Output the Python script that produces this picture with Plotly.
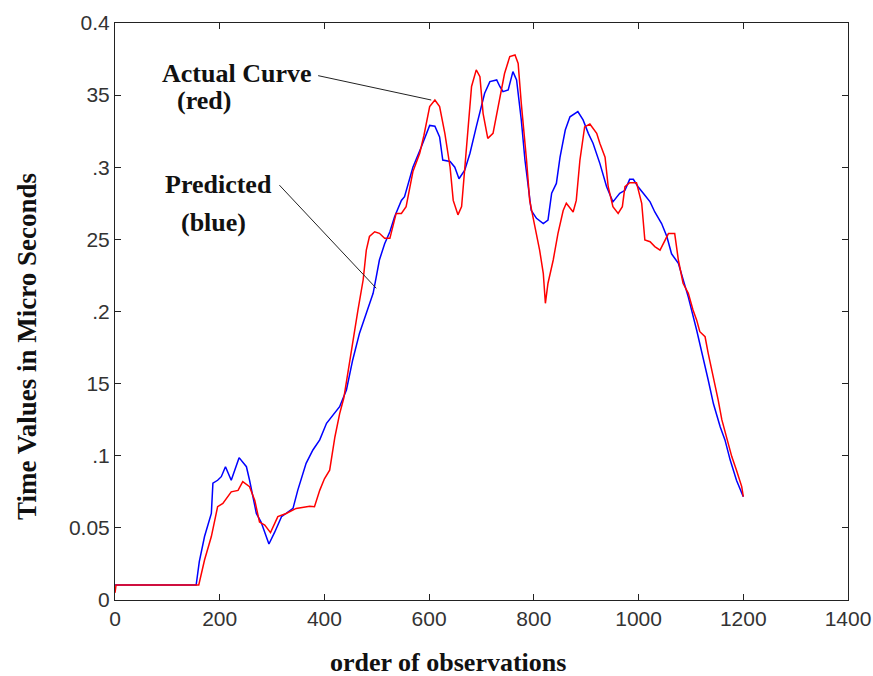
import plotly.graph_objects as go

# ---- data ----
red_x = [0, 2, 160, 171, 184, 196, 206, 222, 235, 244, 257, 267, 276, 286, 297, 311, 327, 346, 372, 381,
         391, 400, 410, 420, 429, 437, 445, 454, 464, 474, 480, 486, 496, 505, 515, 525, 531, 537, 547, 556,
         569, 582, 590, 601, 611, 620, 630, 640, 646, 655, 662, 668, 674, 681, 690, 697, 703, 712, 722, 735,
         744, 754, 764, 770, 776, 786, 792, 802, 811, 818, 822, 827, 837, 846, 856, 862, 875, 881, 888, 897,
         907, 920, 926, 936, 942, 951, 961, 969, 974, 983, 996, 1006, 1012, 1022, 1031, 1041, 1047, 1057, 1069, 1076,
         1085, 1095, 1104, 1111, 1117, 1127, 1133, 1143, 1152, 1159, 1168, 1178, 1187, 1197, 1200]
red_y = [0.005, 0.0104, 0.0104, 0.0277, 0.044, 0.0647, 0.067, 0.075, 0.076, 0.082, 0.0786, 0.069, 0.054, 0.052, 0.0467, 0.0578, 0.060, 0.0635, 0.065, 0.0647,
         0.076, 0.084, 0.090, 0.113, 0.129, 0.140, 0.158, 0.180, 0.201, 0.222, 0.2426, 0.252, 0.2553, 0.2542, 0.2507, 0.2507, 0.2588, 0.268, 0.268, 0.2727,
         0.297, 0.3097, 0.322, 0.342, 0.3466, 0.342, 0.3235, 0.300, 0.277, 0.267, 0.2727, 0.298, 0.321, 0.356, 0.3675, 0.3628, 0.3374, 0.320, 0.3235, 0.349,
         0.365, 0.3767, 0.3778, 0.372, 0.3443, 0.305, 0.277, 0.2588, 0.2426, 0.2265, 0.2057, 0.2196, 0.2357, 0.254, 0.270, 0.275, 0.269, 0.277, 0.305, 0.328,
         0.330, 0.3235, 0.3166, 0.307, 0.2865, 0.2727, 0.268, 0.2727, 0.2865, 0.2893, 0.2893, 0.275, 0.2496, 0.2484, 0.245, 0.2426, 0.2473, 0.254, 0.254, 0.2357,
         0.2196, 0.2126, 0.201, 0.194, 0.186, 0.1825, 0.171, 0.155, 0.1387, 0.125, 0.113, 0.0994, 0.090, 0.0786, 0.0716]

blue_x = [0, 155, 161, 168, 171, 184, 187, 196, 203, 211, 222, 237, 251, 257, 270, 279, 294, 305, 318, 340,
          349, 365, 378, 391, 404, 429, 442, 454, 467, 480, 493, 499, 505, 515, 525, 534, 547, 553, 569, 585,
          601, 611, 620, 626, 640, 649, 657, 668, 678, 690, 706, 716, 729, 735, 741, 751, 760, 767, 776, 783,
          789, 795, 805, 818, 827, 834, 843, 850, 860, 869, 884, 894, 904, 913, 926, 939, 951, 964, 974, 983,
          990, 999, 1009, 1022, 1031, 1044, 1054, 1063, 1076, 1085, 1095, 1111, 1123, 1133, 1143, 1156, 1165, 1175, 1187, 1200]
blue_y = [0.0104, 0.0104, 0.0266, 0.0395, 0.044, 0.060, 0.081, 0.083, 0.0855, 0.0924, 0.083, 0.0987, 0.0924, 0.083, 0.060, 0.054, 0.0388, 0.047, 0.0578, 0.0635,
          0.076, 0.0947, 0.104, 0.111, 0.1225, 0.134, 0.1456, 0.1664, 0.185, 0.1988, 0.2126, 0.224, 0.2357, 0.247, 0.2553, 0.2657, 0.277, 0.2796, 0.300, 0.314,
          0.329, 0.3285, 0.321, 0.305, 0.304, 0.300, 0.292, 0.298, 0.3097, 0.328, 0.3513, 0.3594, 0.3605, 0.356, 0.3524, 0.3536, 0.3663, 0.3605, 0.3328, 0.305,
          0.2865, 0.270, 0.2646, 0.261, 0.2634, 0.282, 0.2888, 0.307, 0.3258, 0.335, 0.3386, 0.3328, 0.3235, 0.3166, 0.3027, 0.2865, 0.276, 0.282, 0.284, 0.2916,
          0.2916, 0.2865, 0.282, 0.276, 0.269, 0.261, 0.252, 0.240, 0.2334, 0.2218, 0.210, 0.187, 0.169, 0.1525, 0.136, 0.120, 0.111, 0.097, 0.083, 0.0716]

x_ticks = [0, 200, 400, 600, 800, 1000, 1200, 1400]
x_tick_labels = ["0", "200", "400", "600", "800", "1000", "1200", "1400"]
y_ticks = [0, 0.05, 0.1, 0.15, 0.2, 0.25, 0.3, 0.35, 0.4]
y_tick_labels = ["0", "0.05", ".1", "15", ".2", "25", ".3", "35", "0.4"]

label_texts = ["Actual Curve", "(red)", "Predicted", "(blue)"]
label_pos = [(85, 0.3653), (114, 0.3466), (91, 0.2877), (123, 0.262)]
leader_lines = [((388, 0.3635), (604, 0.3466)), ((314, 0.2876), (499, 0.2161))]

W, H = 873, 676
PL, PT, PR, PB = 115, 23, 848, 600          # plot box in window pixels
L, T, R, B = PL, PT, W - PR, H - PB
PW, PH = PR - PL, PB - PT

def to_paper(px, py):
    return (px - PL) / PW, 1 - (py - PT) / PH

fig = go.Figure()
fig.add_trace(go.Scatter(x=blue_x, y=blue_y, mode="lines", line=dict(color="#0000ff", width=1.5), showlegend=False))
fig.add_trace(go.Scatter(x=red_x, y=red_y, mode="lines", line=dict(color="#ff0000", width=1.5), showlegend=False))

serif = "Liberation Serif"
for txt, (ax, ay) in zip(label_texts, label_pos):
    fig.add_annotation(x=ax, y=ay, xref="x", yref="y", text="<b>" + txt + "</b>", showarrow=False,
                       xanchor="left", yanchor="middle",
                       font=dict(family=serif, size=26, color="#111"))
for (p0, p1) in leader_lines:
    fig.add_shape(type="line", x0=p0[0], y0=p0[1], x1=p1[0], y1=p1[1], xref="x", yref="y",
                  line=dict(color="#222", width=1))

ax_, ay_ = to_paper(448, 662)
fig.add_annotation(x=ax_, y=ay_, xref="paper", yref="paper", text="<b>order of observations</b>",
                   showarrow=False, xanchor="center", yanchor="middle",
                   font=dict(family=serif, size=26, color="#111"))
ax_, ay_ = to_paper(27, 347)
fig.add_annotation(x=ax_, y=ay_, xref="paper", yref="paper", text="<b>Time Values in Micro Seconds</b>",
                   showarrow=False, textangle=-90, xanchor="center", yanchor="middle",
                   font=dict(family=serif, size=27, color="#111"))

axis_common = dict(showline=True, linecolor="#222", linewidth=1, mirror="ticks", ticks="inside",
                   ticklen=6, tickcolor="#222", showgrid=False, zeroline=False, automargin=False,
                   ticklabeloverflow="allow",
                   tickfont=dict(family="Liberation Sans", size=21, color="#333"))
fig.update_xaxes(range=[0, 1400], tickvals=x_ticks, ticktext=x_tick_labels, **axis_common)
fig.update_yaxes(range=[0, 0.4], tickvals=y_ticks, ticktext=y_tick_labels, **axis_common)

fig.update_layout(width=W, height=H, margin=dict(l=L, r=R, t=T, b=B, autoexpand=False),
                  plot_bgcolor="white", paper_bgcolor="white")
fig.write_html("out.html", config={"displayModeBar": False},
               post_script="document.body.style.margin='0';document.body.style.overflow='hidden';")
